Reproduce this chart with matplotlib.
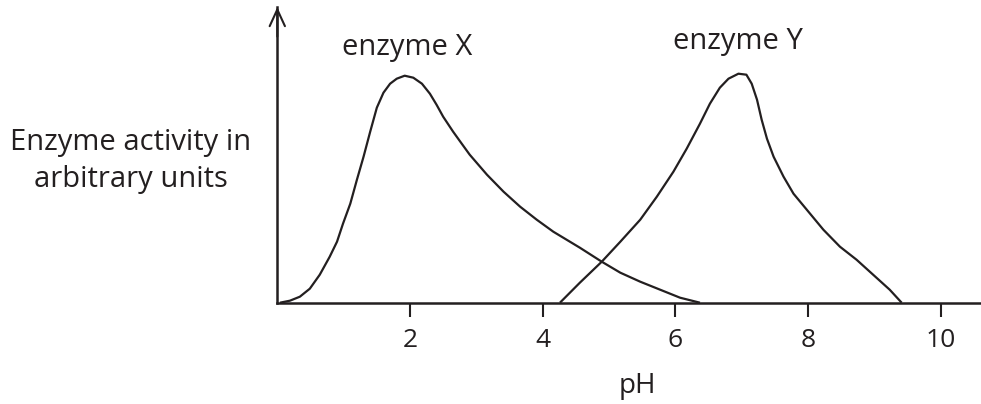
import matplotlib
matplotlib.use("Agg")
import matplotlib.pyplot as plt

plt.rcParams['font.family'] = ['Open Sans', 'DejaVu Sans']

# pH values and enzyme activity (arbitrary units)
ph_x = [0.04, 0.19, 0.34, 0.49, 0.64, 0.79, 0.90, 0.99, 1.10, 1.20, 1.30, 1.40,
        1.50, 1.60, 1.70, 1.80, 1.92, 2.05, 2.18, 2.30, 2.40, 2.50, 2.65, 2.78, 2.90,
        3.16, 3.41, 3.66, 3.91, 4.16, 4.41, 4.56, 4.89, 5.17, 5.47, 5.77, 6.07, 6.37]
act_x = [0, 2, 6, 14, 28, 46, 61, 79, 99, 123, 146, 171,
         195, 210, 219, 224, 227, 225, 219, 209, 198, 186, 171, 159, 148,
         128, 111, 96, 83, 71, 61, 55, 41, 30, 21, 13, 5, 0]

ph_y = [4.26, 4.56, 4.89, 5.17, 5.47, 5.72, 5.97, 6.17, 6.37, 6.52, 6.67, 6.80,
        6.95, 7.07, 7.15, 7.23, 7.30, 7.38, 7.48, 7.63, 7.78, 7.98, 8.23, 8.48,
        8.73, 8.98, 9.23, 9.41]
act_y = [0, 20, 41, 61, 83, 106, 131, 154, 179, 199, 215, 224,
         229, 228, 219, 203, 183, 164, 146, 126, 109, 93, 73, 56,
         43, 28, 13, 0]

xticks = [2, 4, 6, 8, 10]
labels = ["enzyme X", "enzyme Y"]
ylabel_lines = ["Enzyme activity in", "arbitrary units"]
xlabel = "pH"

ink = '#231f20'
W, H = 981, 404
fig = plt.figure(figsize=(W / 100, H / 100), dpi=100)
x0, xb, top = 277.3, 302.7, 7
ax = fig.add_axes([x0 / W, (H - xb) / H, (W - x0) / W, (xb - top) / H])
ax.set_xlim(0, (W - x0) / 66.35)
ax.set_ylim(0, xb - top)

ax.plot(ph_x, act_x, color=ink, lw=1.6, solid_capstyle='butt',
        solid_joinstyle='round', clip_on=False)
ax.plot(ph_y, act_y, color=ink, lw=1.6, solid_capstyle='butt',
        solid_joinstyle='round', clip_on=False)

for s in ['top', 'right']:
    ax.spines[s].set_visible(False)
for s in ['left', 'bottom']:
    ax.spines[s].set_linewidth(1.8)
    ax.spines[s].set_color(ink)

ax.set_yticks([])
ax.set_xticks(xticks)
ax.set_xticklabels([str(t) for t in xticks])
ax.tick_params(axis='x', direction='out', length=10, width=1.5, color=ink,
               labelsize=19, labelcolor=ink, pad=8)

ax.annotate('', xy=(0, 1.0), xycoords='axes fraction', xytext=(0, 0.9),
            textcoords='axes fraction',
            arrowprops=dict(arrowstyle='->,head_length=1.2,head_width=0.55',
                            lw=1.5, color=ink, shrinkA=0, shrinkB=0))

ax.text(1.955, xb - 55, labels[0], ha='center', va='baseline', fontsize=21,
        color=ink)
ax.text(6.94, xb - 49, labels[1], ha='center', va='baseline', fontsize=21,
        color=ink)

fig.text(130.5 / W, 1 - 150 / H, ylabel_lines[0], ha='center', va='baseline',
         fontsize=21, color=ink)
fig.text(130.5 / W, 1 - 187 / H, ylabel_lines[1], ha='center', va='baseline',
         fontsize=21, color=ink)
fig.text(637.5 / W, 1 - 393 / H, xlabel, ha='center', va='baseline', fontsize=20,
         color=ink)

fig.savefig('out.png', dpi=100)
